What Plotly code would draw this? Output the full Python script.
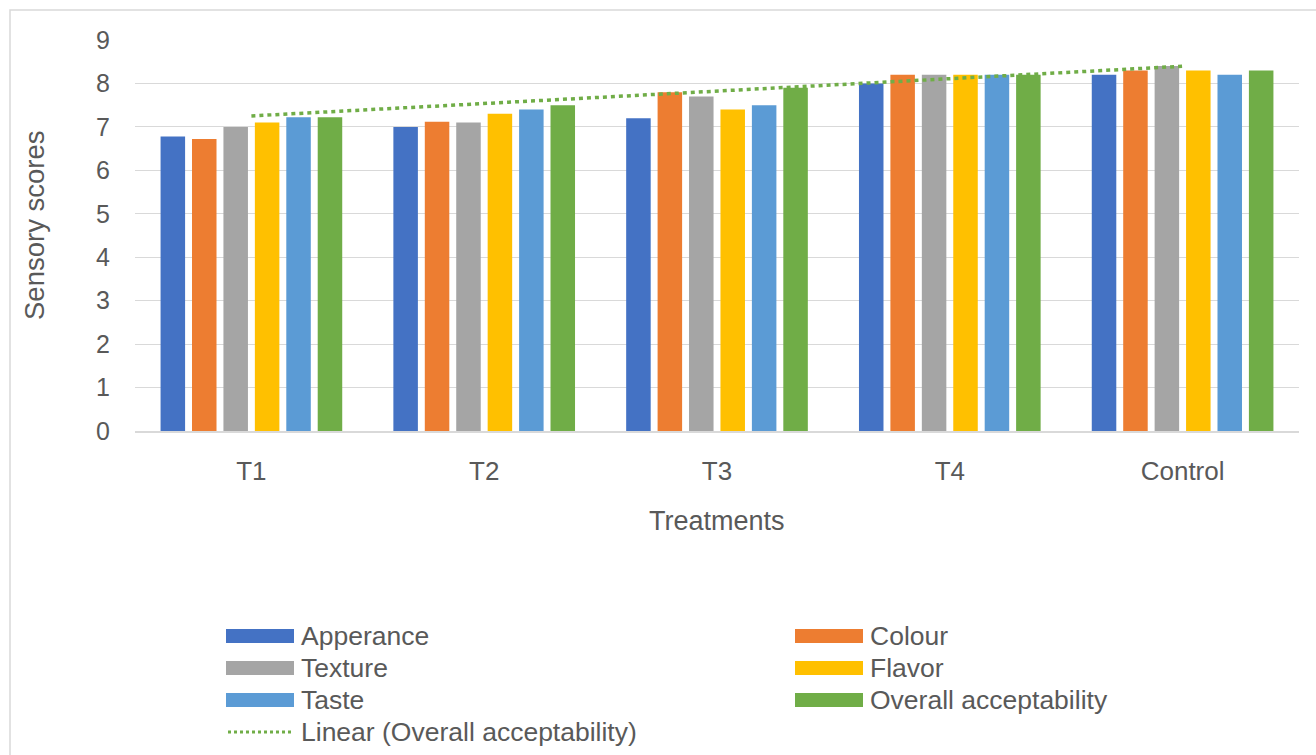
import numpy as np
import plotly.graph_objects as go

# Sensory evaluation data
treatments = ["T1", "T2", "T3", "T4", "Control"]
attributes = ["Apperance", "Colour", "Texture", "Flavor", "Taste", "Overall acceptability"]
apperance = [6.78, 7.0, 7.2, 8.0, 8.2]
colour = [6.72, 7.12, 7.8, 8.2, 8.3]
texture = [7.0, 7.1, 7.7, 8.2, 8.4]
flavor = [7.1, 7.3, 7.4, 8.2, 8.3]
taste = [7.22, 7.4, 7.5, 8.2, 8.2]
overall = [7.22, 7.5, 7.9, 8.2, 8.3]
colors = ["#4472C4", "#ED7D31", "#A5A5A5", "#FFC000", "#5B9BD5", "#70AD47"]
trend_name = "Linear (Overall acceptability)"

series = [apperance, colour, texture, flavor, taste, overall]

W, H = 1316, 755
L, R, T, B = 135, 17, 40, 324
TEXT = "#595959"
GRID = "#D9D9D9"
FONT = "Liberation Sans, Arial, sans-serif"

fig = go.Figure()
for name, vals, col in zip(attributes, series, colors):
    fig.add_trace(go.Bar(x=treatments, y=vals, name=name,
                         marker=dict(color=col, line=dict(width=0)),
                         showlegend=False))

# Linear trend of overall acceptability
xi = np.arange(1, len(treatments) + 1)
slope, intercept = np.polyfit(xi, overall, 1)
trend = slope * xi + intercept
fig.add_trace(go.Scatter(x=treatments, y=trend, mode="lines", name=trend_name,
                         line=dict(color="#70AD47", width=3.5, dash="4px,4px"),
                         showlegend=False))

pw, ph = W - L - R, H - T - B


def px_x(x):
    return (x - L) / pw


def px_y(y):
    return (H - B - y) / ph


shapes = []
annotations = []

# Outer chart border
shapes.append(dict(type="rect", xref="paper", yref="paper",
                   x0=px_x(10), x1=px_x(1340), y0=px_y(780), y1=px_y(10),
                   line=dict(color=GRID, width=1.5), fillcolor="rgba(0,0,0,0)",
                   layer="below"))

# Legend: two columns of swatches with labels
entries = [(n, c, "bar") for n, c in zip(attributes, colors)] + [(trend_name, "#70AD47", "line")]
col_x = [226, 795]
row_y0, row_dy = 636, 32
for i, (name, col, kind) in enumerate(entries):
    cx = col_x[i % 2]
    cy = row_y0 + row_dy * (i // 2)
    if kind == "bar":
        shapes.append(dict(type="rect", xref="paper", yref="paper",
                           x0=px_x(cx), x1=px_x(cx + 68),
                           y0=px_y(cy + 7), y1=px_y(cy - 7),
                           fillcolor=col, line=dict(width=0)))
    else:
        shapes.append(dict(type="line", xref="paper", yref="paper",
                           x0=px_x(cx + 2), x1=px_x(cx + 68),
                           y0=px_y(cy), y1=px_y(cy),
                           line=dict(color=col, width=3, dash="3px,3px")))
    annotations.append(dict(text=name, xref="paper", yref="paper",
                            x=px_x(cx + 73), y=px_y(cy), xanchor="left",
                            yanchor="middle", showarrow=False,
                            font=dict(size=26.5, color=TEXT, family=FONT)))

# Axis titles
annotations.append(dict(text="Treatments", xref="paper", yref="paper",
                        x=0.5, y=px_y(521), xanchor="center", yanchor="middle",
                        showarrow=False, font=dict(size=27, color=TEXT, family=FONT)))
annotations.append(dict(text="Sensory scores", xref="paper", yref="paper",
                        x=px_x(34), y=px_y(225), xanchor="center", yanchor="middle",
                        textangle=-90, showarrow=False,
                        font=dict(size=27.5, color=TEXT, family=FONT)))

fig.update_layout(
    width=W, height=H,
    margin=dict(l=L, r=R, t=T, b=B, pad=0),
    paper_bgcolor="white", plot_bgcolor="white",
    font=dict(family=FONT, color=TEXT, size=26),
    barmode="group", bargap=0.19, bargroupgap=0.22,
    shapes=shapes, annotations=annotations,
    xaxis=dict(showline=True, linecolor=GRID, linewidth=1.5, showgrid=False,
               ticks="", ticklabelstandoff=16,
               tickfont=dict(size=26, color=TEXT, family=FONT)),
    yaxis=dict(range=[0, 9], dtick=1, showgrid=True, gridcolor=GRID, gridwidth=1.3,
               zeroline=False, showline=False, ticks="", ticklabelstandoff=24,
               tickfont=dict(size=25, color=TEXT, family=FONT)),
)

fig.write_html("out.html")
